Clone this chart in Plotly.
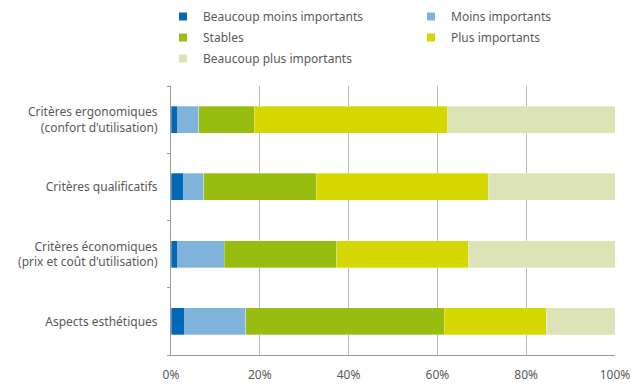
import plotly.graph_objects as go

categories = [
    "Critères ergonomiques<br>(confort d'utilisation)",
    "Critères qualificatifs",
    "Critères économiques<br>(prix et coût d'utilisation)",
    "Aspects esthétiques",
]
series_names = [
    "Beaucoup moins importants",
    "Moins importants",
    "Stables",
    "Plus importants",
    "Beaucoup plus importants",
]
beaucoup_moins = [1.5, 2.9, 1.5, 3.1]
moins = [4.8, 4.5, 10.5, 13.7]
stables = [12.4, 25.3, 25.3, 44.7]
plus = [43.6, 38.8, 29.7, 23.0]
beaucoup_plus = [37.7, 28.5, 33.0, 15.5]
series_values = [beaucoup_moins, moins, stables, plus, beaucoup_plus]
colors = ["#0068b4", "#7fb3da", "#97bd11", "#d5d800", "#dbe3b7"]
x_ticks = [0, 20, 40, 60, 80, 100]
x_tick_labels = ["0%", "20%", "40%", "60%", "80%", "100%"]

FONT = "Noto Sans"
TXT = "#5a5a5a"

fig = go.Figure()
for name, vals, col in zip(series_names, series_values, colors):
    fig.add_trace(go.Bar(
        y=categories, x=vals, name=name, orientation="h",
        marker=dict(color=col, line=dict(color="rgba(255,255,255,0.5)", width=0.6)),
        showlegend=False, hoverinfo="x+name",
    ))

# legend entries (small square markers), split into two columns
for i, (name, col) in enumerate(zip(series_names, colors)):
    fig.add_trace(go.Scatter(
        x=[None], y=[None], mode="markers", name=name,
        marker=dict(symbol="square", size=8, color=col),
        legendgroup=f"g{i}", legend="legend" if i % 2 == 0 else "legend2",
    ))

# the page is offset by the browser's default body margin
OFF = 8
W, H = 642, 384
L, T = 171 - OFF, 86 - OFF
R = W - (615 - OFF)
B = H - (355 - OFF)
pw, ph = W - L - R, H - T - B

def px_x(p):
    return (p - OFF - L) / pw

def px_y(p):
    return 1 + (T - (p - OFF)) / ph

leg_common = dict(
    orientation="v", xanchor="left", yanchor="top",
    font=dict(family=FONT, size=12, color=TXT),
    bgcolor="rgba(0,0,0,0)", borderwidth=0, tracegroupgap=2,
    itemwidth=30,
)

fig.update_layout(
    width=W, height=H,
    margin=dict(l=L, r=R, t=T, b=B, autoexpand=False),
    paper_bgcolor="white", plot_bgcolor="white",
    barmode="stack", bargap=0.6,
    font=dict(family=FONT, size=12, color=TXT),
    legend=dict(x=px_x(163), y=px_y(2), **leg_common),
    legend2=dict(x=px_x(411), y=px_y(2), **leg_common),
    xaxis=dict(
        range=[0, 100], tickvals=x_ticks, ticktext=x_tick_labels,
        showgrid=True, gridcolor="#b8b8b8", gridwidth=1,
        showline=True, linecolor="#9a9a9a", linewidth=1,
        ticks="", ticklabelstandoff=9,
        tickfont=dict(family=FONT, size=12, color=TXT),
        zeroline=False, fixedrange=True, automargin=False,
    ),
    yaxis=dict(
        categoryorder="array", categoryarray=categories[::-1],
        showline=True, linecolor="#9a9a9a", linewidth=1,
        ticks="outside", ticklen=3, tickcolor="#9a9a9a",
        tickson="boundaries", ticklabelstandoff=10,
        tickfont=dict(family=FONT, size=12, color=TXT),
        showgrid=False, fixedrange=True, automargin=False,
    ),
)

fig.write_html("out.html")
